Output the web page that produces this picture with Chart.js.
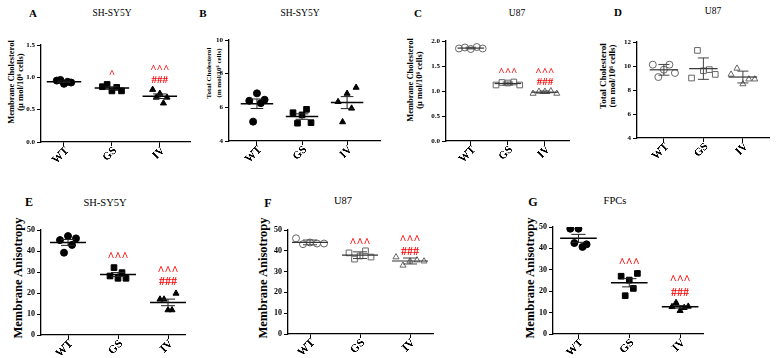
<!DOCTYPE html>
<html>
<head>
<meta charset="utf-8">
<script src="https://cdn.jsdelivr.net/npm/chart.js@4.4.1/dist/chart.umd.min.js"></script>
<style>
body { margin: 0; background: #fff; width: 778px; height: 358px; position: relative; overflow: hidden; font-family: 'Liberation Serif', 'Times New Roman', serif; }
canvas { position: absolute; }
.lt { position: absolute; font-weight: bold; color: #000; white-space: nowrap; transform: translate(-50%, -50%); }
.tt { position: absolute; color: #000; white-space: nowrap; transform: translate(-50%, -50%); }
.yt { position: absolute; font-weight: bold; color: #000; white-space: nowrap; text-align: center; transform: translate(-50%, -50%) rotate(-90deg); }
</style>
</head>
<body>

<!-- panel letters and titles -->
<div class="lt" style="left:33px;top:13px;font-size:11px">A</div>
<div class="tt" style="left:112px;top:13px;font-size:9.5px">SH-SY5Y</div>
<div class="lt" style="left:203px;top:13px;font-size:11px">B</div>
<div class="tt" style="left:300px;top:13px;font-size:9.5px">SH-SY5Y</div>
<div class="lt" style="left:418px;top:13px;font-size:11px">C</div>
<div class="tt" style="left:517px;top:13px;font-size:9.5px">U87</div>
<div class="lt" style="left:618px;top:12px;font-size:11px">D</div>
<div class="tt" style="left:713px;top:11px;font-size:9.5px">U87</div>
<div class="lt" style="left:29px;top:202px;font-size:12px">E</div>
<div class="tt" style="left:105px;top:202px;font-size:10.5px">SH-SY5Y</div>
<div class="lt" style="left:268px;top:203px;font-size:12px">F</div>
<div class="tt" style="left:343px;top:200px;font-size:10.5px">U87</div>
<div class="lt" style="left:533px;top:202px;font-size:12px">G</div>
<div class="tt" style="left:615px;top:200px;font-size:10.5px">FPCs</div>

<!-- y axis titles -->
<div class="yt" style="left:16px;top:82px;font-size:8.5px;line-height:9px">Membrane Cholesterol<br>(μ mol/10⁶ cells)</div>
<div class="yt" style="left:214px;top:73px;font-size:7px;line-height:10px">Total Cholesterol<br>(m mol/10⁶ cells)</div>
<div class="yt" style="left:415px;top:80px;font-size:8.5px;line-height:9px">Membrane Cholesterol<br>(μ mol/10⁶ cells)</div>
<div class="yt" style="left:608px;top:76px;font-size:9px;line-height:9px">Total Cholesterol<br>(m mol/10⁶ cells)</div>
<div class="yt" style="left:18px;top:278px;font-size:12.5px">Membrane Anisotropy</div>
<div class="yt" style="left:263px;top:278px;font-size:12.5px">Membrane Anisotropy</div>
<div class="yt" style="left:530px;top:278px;font-size:12.5px">Membrane Anisotropy</div>

<canvas id="cA" width="195" height="155" style="left:0px;top:25px"></canvas>
<canvas id="cB" width="190" height="155" style="left:195px;top:25px"></canvas>
<canvas id="cC" width="205" height="155" style="left:385px;top:25px"></canvas>
<canvas id="cD" width="188" height="155" style="left:590px;top:25px"></canvas>
<canvas id="cE" width="200" height="163" style="left:0px;top:195px"></canvas>
<canvas id="cF" width="200" height="163" style="left:240px;top:195px"></canvas>
<canvas id="cG" width="220" height="163" style="left:500px;top:195px"></canvas>

<script>
const groups = ['WT', 'GS', 'IV'];

// A: SH-SY5Y membrane cholesterol
const aWT = [0.95, 0.96, 0.90, 0.93, 0.92];
const aGS = [0.855, 0.89, 0.79, 0.845, 0.79];
const aIV = [0.81, 0.69, 0.75, 0.60, 0.69];
const aTicks = [0, 0.5, 1.0, 1.5];
const aMarks = [[2, 1.05, '^'], [3, 1.12, '^^^'], [3, 0.96, '###']];

// B: SH-SY5Y total cholesterol
const bWT = [6.39, 5.15, 6.83, 6.25, 6.45];
const bGS = [5.68, 5.06, 5.55, 5.88, 5.09];
const bIV = [6.33, 5.13, 6.82, 5.94, 7.18];
const bTicks = [4, 6, 8, 10];

// C: U87 membrane cholesterol
const cWT = [1.85, 1.87, 1.84, 1.88, 1.85];
const cGS = [1.12, 1.17, 1.16, 1.18, 1.12];
const cIV = [0.95, 0.99, 0.99, 1.00, 0.95];
const cTicks = [0, 0.5, 1.0, 1.5, 2.0];
const cMarks = [[2, 1.37, '^^^'], [3, 1.37, '^^^'], [3, 1.17, '###']];

// D: U87 total cholesterol
const dWT = [10.11, 9.08, 9.69, 10.11, 9.42];
const dGS = [9.0, 11.3, 9.6, 9.7, 9.3];
const dIV = [9.3, 9.8, 8.5, 8.9, 8.9];
const dTicks = [4, 6, 8, 10, 12];

// E: SH-SY5Y membrane anisotropy
const eWT = [45.2, 39.2, 47.1, 42.9, 46.0];
const eGS = [28.1, 32.1, 27.0, 29.7, 27.0];
const eIV = [17.0, 17.0, 11.9, 11.9, 19.8];
const eMarks = [[2, 37.3, '^^^'], [3, 30.5, '^^^'], [3, 25.1, '###']];

// F: U87 membrane anisotropy
const fWT = [46.0, 43.2, 44.0, 43.5, 43.5];
const fGS = [39.0, 36.0, 37.5, 40.0, 37.0];
const fIV = [37.0, 33.0, 35.0, 35.5, 35.0];
const fMarks = [[2, 43.6, '^^^'], [3, 45.2, '^^^'], [3, 39.6, '###']];

// G: FPCs membrane anisotropy
const gWT = [49.2, 42.5, 49.2, 40.7, 41.9];
const gGS = [27.0, 17.9, 25.2, 21.3, 28.3];
const gIV = [12.7, 14.6, 10.9, 12.3, 12.9];
const gMarks = [[2, 33.2, '^^^'], [3, 25.2, '^^^'], [3, 19.3, '###']];

const anisoTicks = [0, 10, 20, 30, 40, 50];

const SERIF = "'Liberation Serif', 'Times New Roman', serif";
const JITTER = [-1, -0.5, 0, 0.5, 1];
const SHAPES = ['circle', 'rect', 'triangle'];

// render a label flat on a small canvas, so it can be turned as an image
function labelImage(text, size) {
    const k = 3;
    const off = document.createElement('canvas');
    const c = off.getContext('2d');
    const font = 'bold ' + size * k + 'px ' + SERIF;
    c.font = font;
    const w = Math.ceil(c.measureText(text).width) + 2 * k;
    const h = Math.ceil(size * 1.25 * k);
    off.width = w;
    off.height = h;
    c.font = font;
    c.fillStyle = '#000';
    c.textBaseline = 'middle';
    c.fillText(text, k, h / 2);
    return { img: off, w: w / k, h: h / k };
}

// mean line + error bar, red significance marks, rotated group labels
function statsPlugin(cfg) {
    return {
        id: 'stats',
        afterDatasetsDraw(chart) {
            const { ctx, scales: { x, y } } = chart;
            ctx.save();
            chart.data.datasets.forEach((ds, gi) => {
                const vals = ds.data.map(p => p.y);
                const n = vals.length;
                const mean = vals.reduce((a, b) => a + b, 0) / n;
                const sd = Math.sqrt(vals.reduce((a, b) => a + (b - mean) ** 2, 0) / (n - 1));
                const err = cfg.open ? sd : sd / Math.sqrt(n);
                const cx = x.getPixelForValue(gi + 1);
                const hw = x.getPixelForValue(gi + 1 + 0.36) - cx;
                const cw = x.getPixelForValue(gi + 1 + 0.14) - cx;
                const ym = y.getPixelForValue(mean);
                const yt = y.getPixelForValue(mean + err);
                const yb = y.getPixelForValue(mean - err);
                ctx.strokeStyle = cfg.open ? '#333' : '#000';
                ctx.lineWidth = cfg.open ? 1.2 : 1.5;
                ctx.beginPath();
                ctx.moveTo(cx - hw, ym); ctx.lineTo(cx + hw, ym);
                ctx.stroke();
                ctx.lineWidth = 1;
                ctx.strokeStyle = cfg.open ? '#444' : '#222';
                ctx.beginPath();
                ctx.moveTo(cx, yt); ctx.lineTo(cx, yb);
                ctx.moveTo(cx - cw, yt); ctx.lineTo(cx + cw, yt);
                ctx.moveTo(cx - cw, yb); ctx.lineTo(cx + cw, yb);
                ctx.stroke();
            });
            ctx.fillStyle = '#ff0000';
            ctx.font = 'bold ' + cfg.markSize + 'px ' + SERIF;
            ctx.textAlign = 'center';
            ctx.textBaseline = 'middle';
            (cfg.marks || []).forEach(([g, v, t]) => {
                ctx.fillText(t, x.getPixelForValue(g), y.getPixelForValue(v));
            });
            // group labels at 45 degrees
            groups.forEach((g, i) => {
                const lab = labelImage(g, cfg.xfs);
                ctx.save();
                ctx.translate(x.getPixelForValue(i + 1) + 4, x.top + 6);
                ctx.rotate(-Math.PI / 4);
                ctx.drawImage(lab.img, -lab.w, -lab.h / 2, lab.w, lab.h);
                ctx.restore();
            });
            ctx.restore();
        }
    };
}

function makePanel(id, cfg) {
    const datasets = cfg.series.map((vals, g) => ({
        data: vals.map((v, i) => ({ x: g + 1 + JITTER[i] * cfg.spread[g], y: v })),
        pointStyle: SHAPES[g],
        pointRadius: g === 1 ? 4 : 3.5,
        backgroundColor: cfg.open ? 'rgba(255,255,255,0)' : '#000',
        borderColor: cfg.open ? '#666' : '#000',
        borderWidth: 1
    }));
    const yt = cfg.yTicks;
    new Chart(document.getElementById(id), {
        type: 'scatter',
        data: { datasets },
        options: {
            responsive: false,
            animation: false,
            devicePixelRatio: 1,
            layout: { padding: { top: cfg.padTop, right: cfg.padRight, bottom: 0, left: 0 } },
            plugins: { legend: { display: false }, tooltip: { enabled: false } },
            scales: {
                x: {
                    type: 'linear',
                    min: cfg.xr[0],
                    max: cfg.xr[1],
                    afterBuildTicks: s => { s.ticks = groups.map((_, i) => ({ value: i + 1 })); },
                    afterFit: s => { s.height = cfg.xh; },
                    grid: { drawOnChartArea: false, drawTicks: true, tickLength: 4, color: '#000', lineWidth: 1 },
                    border: { color: '#000', width: 1.3 },
                    ticks: { display: false }
                },
                y: {
                    min: yt[0],
                    max: yt[yt.length - 1],
                    afterBuildTicks: s => { s.ticks = yt.map(v => ({ value: v })); },
                    afterFit: s => { s.width = cfg.yw; },
                    grid: { drawOnChartArea: false, drawTicks: true, tickLength: 4, color: '#000', lineWidth: 1 },
                    border: { color: '#000', width: 1.3 },
                    ticks: {
                        callback: v => cfg.dec ? v.toFixed(1) : v,
                        padding: 2,
                        color: '#000',
                        font: { family: SERIF, weight: 'bold', size: cfg.yfs }
                    }
                }
            }
        },
        plugins: [statsPlugin(cfg)]
    });
}

makePanel('cA', { series: [aWT, aGS, aIV], yTicks: aTicks, dec: true, marks: aMarks, markSize: 11,
    xr: [0.52, 3.63], spread: [0.15, 0.2, 0.15], padTop: 20, padRight: 5, yw: 41, xh: 38, xfs: 11, yfs: 7 });
makePanel('cB', { series: [bWT, bGS, bIV], yTicks: bTicks, marks: [], markSize: 11,
    xr: [0.38, 3.73], spread: [0.17, 0.2, 0.2], padTop: 15, padRight: 5, yw: 34, xh: 39, xfs: 11, yfs: 7 });
makePanel('cC', { series: [cWT, cGS, cIV], yTicks: cTicks, dec: true, open: true, marks: cMarks, markSize: 11,
    xr: [0.33, 3.65], spread: [0.32, 0.32, 0.32], padTop: 16, padRight: 21, yw: 61, xh: 39, xfs: 11, yfs: 7 });
makePanel('cD', { series: [dWT, dGS, dIV], yTicks: dTicks, open: true, marks: [], markSize: 11,
    xr: [0.32, 3.66], spread: [0.28, 0.3, 0.3], padTop: 17, padRight: 9, yw: 47, xh: 42, xfs: 11, yfs: 7 });
makePanel('cE', { series: [eWT, eGS, eIV], yTicks: anisoTicks, marks: eMarks, markSize: 12,
    xr: [0.46, 3.34], spread: [0.16, 0.16, 0.16], padTop: 35, padRight: 15, yw: 41, xh: 23, xfs: 11.5, yfs: 8 });
makePanel('cF', { series: [fWT, fGS, fIV], yTicks: anisoTicks, open: true, marks: fMarks, markSize: 12,
    xr: [0.56, 3.46], spread: [0.28, 0.22, 0.28], padTop: 35, padRight: 7, yw: 48, xh: 24, xfs: 11.5, yfs: 8 });
makePanel('cG', { series: [gWT, gGS, gIV], yTicks: anisoTicks, marks: gMarks, markSize: 12,
    xr: [0.5, 3.45], spread: [0.16, 0.16, 0.16], padTop: 32, padRight: 17, yw: 53, xh: 24, xfs: 11.5, yfs: 8 });
</script>
</body>
</html>
